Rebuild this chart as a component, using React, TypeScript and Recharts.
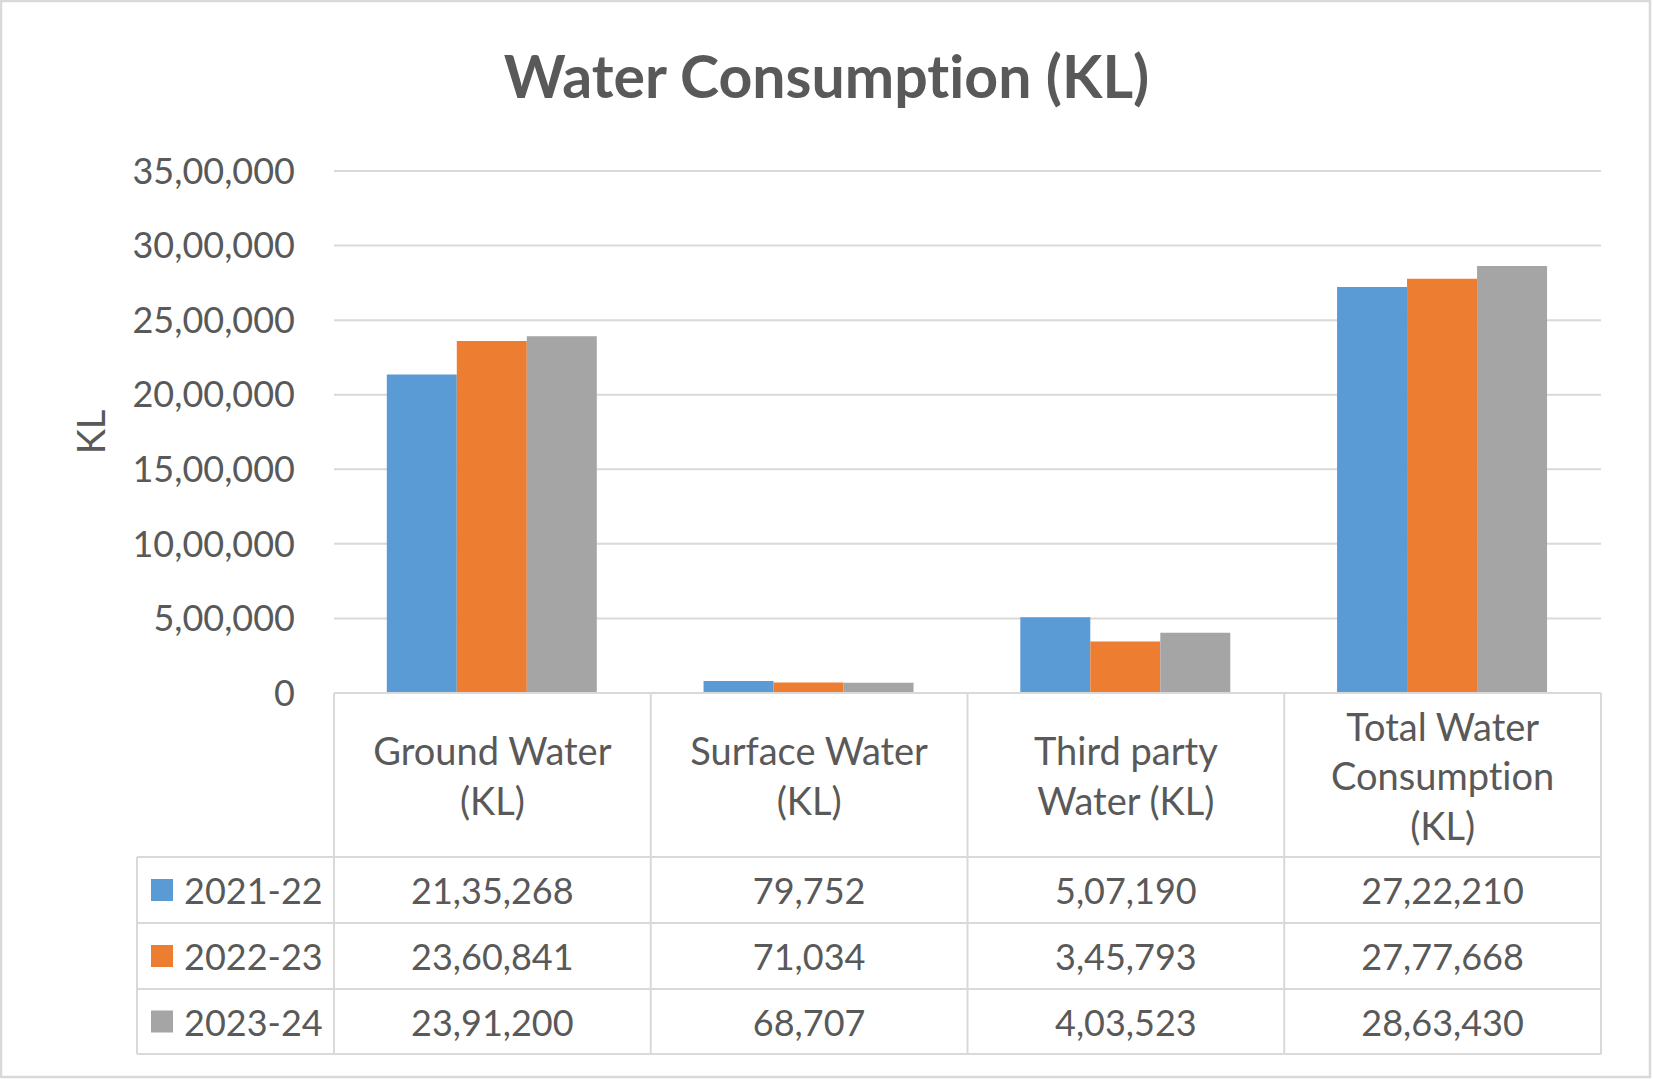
import React from "react";
import { BarChart, Bar, XAxis, YAxis, CartesianGrid } from "recharts";

const categories = [
  "Ground Water (KL)",
  "Surface Water (KL)",
  "Third party Water (KL)",
  "Total Water Consumption (KL)",
];
const categoryLines = [
  ["Ground Water", "(KL)"],
  ["Surface Water", "(KL)"],
  ["Third party", "Water (KL)"],
  ["Total Water", "Consumption", "(KL)"],
];
const seriesNames = ["2021-22", "2022-23", "2023-24"];
const fy2122 = [2135268, 79752, 507190, 2722210];
const fy2223 = [2360841, 71034, 345793, 2777668];
const fy2324 = [2391200, 68707, 403523, 2863430];
const yTicks = [0, 500000, 1000000, 1500000, 2000000, 2500000, 3000000, 3500000];

const seriesValues = [fy2122, fy2223, fy2324];
const colors = ["#5B9BD5", "#ED7D31", "#A5A5A5"];

const data = categories.map((c, i) => ({
  name: c,
  s0: fy2122[i],
  s1: fy2223[i],
  s2: fy2324[i],
}));

// layout
const W = 1653;
const H = 1079;
const PLOT_L = 334;
const PLOT_R = 1601;
const PLOT_T = 171;
const PLOT_B = 693;
const TABLE_L = 137;
const ROW_LINES = [857, 923, 989, 1054];
const TEXT = "#595959";
const LINE = "#D9D9D9";
const FONT = "Lato, 'Open Sans', sans-serif";
const noLig = { fontVariantLigatures: "none" as const };

// Indian grouping: 21,35,268
const fmt = (n: number) => {
  const s = String(Math.round(n));
  if (s.length <= 3) return s;
  const last3 = s.slice(-3);
  let rest = s.slice(0, -3);
  const parts: string[] = [];
  while (rest.length > 2) {
    parts.unshift(rest.slice(-2));
    rest = rest.slice(0, -2);
  }
  if (rest) parts.unshift(rest);
  return parts.join(",") + "," + last3;
};

const CategoryTick = (props: any) => {
  const { x, payload } = props;
  const idx = categories.indexOf(payload.value);
  const lines = categoryLines[idx] || [payload.value];
  const mid = (PLOT_B + ROW_LINES[0]) / 2;
  const lh = 49.5;
  return (
    <g>
      {lines.map((l, i) => (
        <text
          key={i}
          x={x}
          y={mid + (i - (lines.length - 1) / 2) * lh}
          textAnchor="middle"
          dominantBaseline="central"
          fill={TEXT}
          fontSize={38}
          fontFamily={FONT}
          style={noLig}
        >
          {l}
        </text>
      ))}
      {seriesValues.map((vals, s) => (
        <text
          key={"v" + s}
          x={x}
          y={(ROW_LINES[s] + ROW_LINES[s + 1]) / 2}
          textAnchor="middle"
          dominantBaseline="central"
          fill={TEXT}
          fontSize={36}
          fontFamily={FONT}
        >
          {fmt(vals[idx])}
        </text>
      ))}
    </g>
  );
};

const AxisTitle = (props: any) => {
  const vb = props.viewBox || {};
  const cy = (vb.y ?? PLOT_T) + (vb.height ?? PLOT_B - PLOT_T) / 2;
  return (
    <text
      x={90}
      y={cy}
      transform={`rotate(-90, 90, ${cy})`}
      textAnchor="middle"
      dominantBaseline="central"
      fill={TEXT}
      fontSize={38}
      fontFamily={FONT}
    >
      KL
    </text>
  );
};

const TableLines = () => {
  const step = (PLOT_R - PLOT_L) / categories.length;
  const xs = categories.map((_, i) => PLOT_L + i * step).concat([PLOT_R]);
  return (
    <svg
      width={W}
      height={H}
      style={{ position: "absolute", left: 0, top: 0, pointerEvents: "none" }}
    >
      <rect x={1} y={1} width={W - 4} height={H - 3} fill="none" stroke={LINE} strokeWidth={2.5} />
      <text
        x={W / 2}
        y={98}
        textAnchor="middle"
        fill={TEXT}
        fontSize={59}
        fontWeight="bold"
        fontFamily={FONT}
        style={noLig}
      >
        Water Consumption (KL)
      </text>
      {xs.map((x, i) => (
        <line key={i} x1={x} x2={x} y1={PLOT_B} y2={ROW_LINES[3]} stroke={LINE} strokeWidth={2} />
      ))}
      <line x1={TABLE_L} x2={TABLE_L} y1={ROW_LINES[0]} y2={ROW_LINES[3]} stroke={LINE} strokeWidth={2} />
      {ROW_LINES.map((y, i) => (
        <line key={"h" + i} x1={TABLE_L} x2={PLOT_R} y1={y} y2={y} stroke={LINE} strokeWidth={2} />
      ))}
      {seriesNames.map((n, s) => {
        const cy = (ROW_LINES[s] + ROW_LINES[s + 1]) / 2;
        return (
          <g key={n}>
            <rect x={151} y={cy - 11} width={22} height={22} fill={colors[s]} />
            <text
              x={184}
              y={cy}
              dominantBaseline="central"
              fill={TEXT}
              fontSize={36}
              fontFamily={FONT}
            >
              {n}
            </text>
          </g>
        );
      })}
    </svg>
  );
};

export default function App() {
  return (
    <div style={{ position: "absolute", left: 0, top: 0, width: W, height: H, background: "#fff" }}>
      <BarChart
        width={W}
        height={H}
        data={data}
        margin={{ top: PLOT_T, right: W - PLOT_R, bottom: 25, left: PLOT_L - 200 }}
        barCategoryGap="16.67%"
        barGap={0}
      >
        <CartesianGrid vertical={false} stroke={LINE} strokeWidth={2} />
        <XAxis
          dataKey="name"
          interval={0}
          height={ROW_LINES[3] - PLOT_B}
          tickLine={false}
          tickSize={0}
          tickMargin={0}
          axisLine={{ stroke: LINE, strokeWidth: 2 }}
          tick={<CategoryTick />}
        />
        <YAxis
          width={200}
          domain={[0, 3500000]}
          ticks={yTicks}
          interval={0}
          tickFormatter={fmt}
          axisLine={false}
          tickLine={false}
          tickSize={0}
          tickMargin={39}
          tick={{ fill: TEXT, fontSize: 36, fontFamily: FONT }}
          label={<AxisTitle />}
        />
        {seriesNames.map((n, s) => (
          <Bar key={n} dataKey={"s" + s} name={n} fill={colors[s]} isAnimationActive={false} />
        ))}
      </BarChart>
      <TableLines />
    </div>
  );
}
